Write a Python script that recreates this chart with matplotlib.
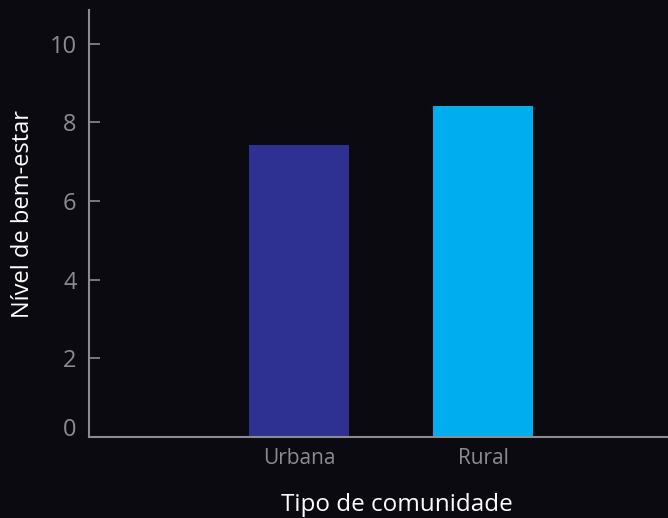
import matplotlib.pyplot as plt
import matplotlib.transforms as mtransforms

# dados
categorias = ['Urbana', 'Rural']
valores = [7.42, 8.42]
cores = ['#2e3192', '#00aeef']

bg = '#0b0a10'
cinza = '#8c8c90'

plt.rcParams['font.family'] = ['Open Sans', 'DejaVu Sans']

fig = plt.figure(figsize=(6.68, 5.18), dpi=100, facecolor=bg)
ax = fig.add_axes([89 / 668, 81 / 518, 579 / 668, 427 / 518], facecolor=bg)

x = range(len(categorias))
ax.bar(x, valores, width=0.543, color=cores)

ax.set_xlim(-1.141, 2.005)
ax.set_ylim(0, 10.86)
ax.set_yticks([0, 2, 4, 6, 8, 10])
ax.set_xticks(list(x))
ax.set_xticklabels(categorias)

for s in ['top', 'right']:
    ax.spines[s].set_visible(False)
for s in ['left', 'bottom']:
    ax.spines[s].set_color(cinza)
    ax.spines[s].set_linewidth(1.5)

ax.tick_params(axis='y', direction='in', length=8, width=1.2, color=cinza,
               labelcolor=cinza, labelsize=17, pad=9)
ax.tick_params(axis='x', length=0, labelcolor=cinza, labelsize=15, pad=8)

# o rótulo 0 fica um pouco acima do eixo
lbl0 = ax.get_yticklabels()[0]
lbl0.set_transform(lbl0.get_transform() +
                   mtransforms.ScaledTranslation(0, 10 / 100, fig.dpi_scale_trans))

fig.text(397 / 668, 13 / 518, 'Tipo de comunidade', color='white', fontsize=17.5,
         ha='center', va='center')
fig.text(23 / 668, 1 - 214 / 518, 'Nível de bem-estar', color='white', fontsize=17,
         ha='center', va='center', rotation=90)

fig.savefig('out.png', dpi=100, facecolor=bg)
